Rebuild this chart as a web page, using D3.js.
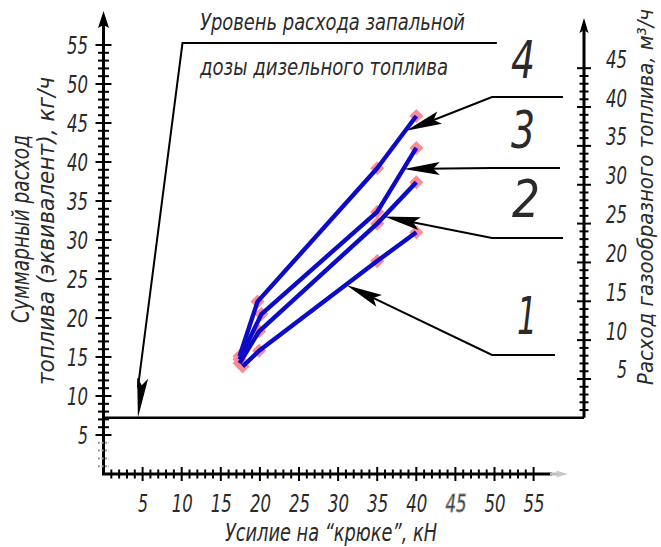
<!DOCTYPE html>
<html><head><meta charset="utf-8">
<script src="https://cdn.jsdelivr.net/npm/d3@7"></script>
<style>
body{margin:0;background:#fff}
text{font-family:'Liberation Sans Narrow','DejaVu Sans Condensed','Open Sans',sans-serif;font-style:italic;fill:#2a2a2a}
</style>
</head><body>
<svg id="c" width="661" height="547"></svg>
<script>
// ---------- data ----------
const xTickLabels = [5,10,15,20,25,30,35,40,45,50,55];
const yLeftTickLabels = [5,10,15,20,25,30,35,40,45,50,55];
const yRightTickLabels = [5,10,15,20,25,30,35,40,45];
const seriesNames = ["1","2","3","4"];
const s1X = [17.8, 19.9, 35.0, 40.0], s1Y = [13.8, 15.8, 27.3, 31.0];
const s2X = [17.4, 19.9, 35.0, 40.0], s2Y = [14.2, 18.3, 32.1, 37.4];
const s3X = [17.4, 20.2, 35.0, 40.0], s3Y = [14.7, 20.5, 33.6, 41.8];
const s4X = [17.4, 19.7, 35.0, 40.0], s4Y = [15.1, 22.1, 39.2, 45.9];
const ignitionLevel = 7.2;
const xTitle = "Усилие на “крюке”, кН";
const yLeftTitle1 = "Суммарный расход";
const yLeftTitle2 = "топлива (эквивалент), кг/ч";
const yRightTitle = "Расход газообразного топлива, м³/ч";
const noteLine1 = "Уровень расхода запальной";
const noteLine2 = "дозы дизельного топлива";

// ---------- scales ----------
const svg = d3.select("#c");
const x = d3.scaleLinear().domain([0,55]).range([103.5, 103.5 + 55*7.82]);
const yL = d3.scaleLinear().domain([0,55]).range([474, 474 - 55*7.8]);
const yR = d3.scaleLinear().domain([0,45]).range([yL(ignitionLevel), yL(ignitionLevel) - 45*7.77]);
const X0 = x(0), XR = 584, YB = yL(0);
const FONT = "'Liberation Sans Narrow','DejaVu Sans Condensed',sans-serif";
const tl = d => String(d).length === 1 ? 10 : 21;

function arrowHead(g, tx, ty, fx, fy, L, W, fill){
  const dx = tx-fx, dy = ty-fy, d = Math.hypot(dx,dy), ux = dx/d, uy = dy/d;
  const bx = tx-ux*L, by = ty-uy*L, nx = -uy, ny = ux;
  const mx = tx-ux*L*0.82, my = ty-uy*L*0.82;
  g.append("path").attr("d",`M${tx},${ty}L${bx+nx*W},${by+ny*W}L${mx},${my}L${bx-nx*W},${by-ny*W}Z`)
   .attr("fill",fill||"#000");
}
function styleTicks(sel){
  sel.attr("font-size",24).attr("dy",null)
     .attr("textLength",tl).attr("lengthAdjust","spacingAndGlyphs")
     .style("font-family",FONT).style("font-style","italic").attr("fill","#333");
}

// ---------- left axis ----------
const gL = svg.append("g");
gL.append("line").attr("x1",X0).attr("x2",X0).attr("y1",YB).attr("y2",24).attr("stroke","#000").attr("stroke-width",3);
arrowHead(gL, X0, 11, X0, 40, 17, 5.5);
gL.selectAll("line.t").data(d3.range(1,56)).join("line").attr("class","t")
  .attr("x1",d=>X0-(d%5===0?8:5.5)).attr("x2",d=>X0+(d%5===0?8:5.5))
  .attr("y1",d=>yL(d)).attr("y2",d=>yL(d))
  .attr("stroke",d=>d<5?"#9a9a9a":"#000").attr("stroke-width",2)
  .attr("stroke-dasharray",d=>d<5?"2,1.5":null);
const axL = d3.axisLeft(yL).tickValues(yLeftTickLabels).tickSize(0).tickPadding(0).tickFormat(d3.format("d"));
const gAL = svg.append("g").attr("transform",`translate(${88},8)`).call(axL);
gAL.select(".domain").remove();
styleTicks(gAL.selectAll("text").attr("text-anchor","end"));

// ---------- bottom axis ----------
const gB = svg.append("g");
gB.append("line").attr("x1",X0-1.5).attr("x2",552).attr("y1",YB).attr("y2",YB).attr("stroke","#000").attr("stroke-width",3);
gB.append("line").attr("x1",550).attr("x2",560).attr("y1",YB).attr("y2",YB).attr("stroke","#bbb").attr("stroke-width",3);
arrowHead(gB, 568, YB, 540, YB, 12, 3.5, "#c8c8c8");
gB.selectAll("line.t").data(d3.range(1,56)).join("line").attr("class","t")
  .attr("x1",d=>x(d)).attr("x2",d=>x(d))
  .attr("y1",d=>YB-(d%5===0?7:4.5)).attr("y2",d=>YB+(d%5===0?7:4.5))
  .attr("stroke","#000").attr("stroke-width",2);
const axB = d3.axisBottom(x).tickValues(xTickLabels).tickSize(0).tickPadding(0).tickFormat(d3.format("d"));
const gAB = svg.append("g").attr("transform",`translate(0,${YB+21})`).call(axB);
gAB.select(".domain").remove();
styleTicks(gAB.selectAll("text").attr("y",17));
gAB.selectAll("text").filter(d=>d===45).attr("fill","#777").attr("stroke","#999").attr("stroke-width",0.8);

// ---------- right axis ----------
const gR = svg.append("g");
gR.append("line").attr("x1",XR).attr("x2",XR).attr("y1",yR(0)).attr("y2",30).attr("stroke","#000").attr("stroke-width",3);
arrowHead(gR, XR, 18, XR, 40, 15, 4.5);
gR.selectAll("line.t").data(d3.range(1,46)).join("line").attr("class","t")
  .attr("x1",d=>XR-(d%5===0?7:4.5)).attr("x2",d=>XR+(d%5===0?7:4.5))
  .attr("y1",d=>yR(d)).attr("y2",d=>yR(d))
  .attr("stroke","#000").attr("stroke-width",2);
const axR = d3.axisRight(yR).tickValues(yRightTickLabels).tickSize(0).tickPadding(0).tickFormat(d3.format("d"));
const gAR = svg.append("g").attr("transform",`translate(627,0)`).call(axR);
gAR.select(".domain").remove();
styleTicks(gAR.selectAll("text").attr("x",0).attr("y",-1).attr("text-anchor","end"));

// ---------- ignition level line ----------
svg.append("line").attr("x1",X0).attr("x2",XR).attr("y1",yL(ignitionLevel)).attr("y2",yL(ignitionLevel))
   .attr("stroke","#000").attr("stroke-width",2.5);

// ---------- titles ----------
svg.append("text").attr("x",331).attr("y",541).attr("text-anchor","middle").attr("font-size",24)
   .attr("textLength",212).attr("lengthAdjust","spacingAndGlyphs").text(xTitle);
svg.append("text").attr("transform","translate(21,229) rotate(-90)").attr("text-anchor","middle")
   .attr("dominant-baseline","central").attr("font-size",24).attr("textLength",188).attr("lengthAdjust","spacingAndGlyphs").text(yLeftTitle1);
svg.append("text").attr("transform","translate(46,231) rotate(-90)").attr("text-anchor","middle")
   .attr("dominant-baseline","central").attr("font-size",23).attr("textLength",308).attr("lengthAdjust","spacingAndGlyphs").text(yLeftTitle2);
svg.append("text").attr("transform","translate(645,197) rotate(-90)").attr("text-anchor","middle")
   .attr("dominant-baseline","central").attr("font-size",22).attr("textLength",376).attr("lengthAdjust","spacingAndGlyphs").text(yRightTitle);

// ---------- note about ignition dose ----------
svg.append("text").attr("x",200).attr("y",30).attr("font-size",23).attr("textLength",265).attr("lengthAdjust","spacingAndGlyphs").text(noteLine1);
svg.append("text").attr("x",200).attr("y",75).attr("font-size",23).attr("textLength",248).attr("lengthAdjust","spacingAndGlyphs").text(noteLine2);
const noteCorner = [x(10.1), 43], noteEnd = x(50.3), noteTip = [x(4.4), yL(ignitionLevel)];
svg.append("path").attr("d",`M${noteEnd},${noteCorner[1]}H${noteCorner[0]}L${noteTip[0]},${noteTip[1]-30}`)
   .attr("fill","none").attr("stroke","#000").attr("stroke-width",2);
arrowHead(svg, noteTip[0], noteTip[1], noteCorner[0], noteCorner[1], 40, 5.5);

// ---------- series ----------
const series = [
  {name:"1", xs:s1X, ys:s1Y},
  {name:"2", xs:s2X, ys:s2Y},
  {name:"3", xs:s3X, ys:s3Y},
  {name:"4", xs:s4X, ys:s4Y}
];
const pts = series.flatMap(s => s.xs.map((v,i)=>({x:v, y:s.ys[i]})));
svg.append("g").selectAll("path").data(pts).join("path")
   .attr("d", d3.symbol(d3.symbolSquare, 100))
   .attr("transform", d=>`translate(${x(d.x)},${yL(d.y)}) rotate(45)`)
   .attr("fill","#fa8c96");
const lineGen = d3.line().x(d=>x(d[0])).y(d=>yL(d[1]));
svg.append("g").selectAll("path").data(series).join("path")
   .attr("d", s=>lineGen(s.xs.map((v,i)=>[v,s.ys[i]])))
   .attr("fill","none").attr("stroke","#0c0cc8").attr("stroke-width",4.4)
   .attr("stroke-linejoin","round").attr("stroke-linecap","butt");

// ---------- leaders & labels 1..4 ----------
const leaders = [
  {name:"4", tip:[38.7,44.0], corner:[492,97],  end:563, label:[523,60],  w:24},
  {name:"3", tip:[38.4,39.1], corner:[492,168], end:560, label:[523,130], w:24},
  {name:"2", tip:[35.9,33.0], corner:[492,238], end:563, label:[526,199], w:28},
  {name:"1", tip:[31.1,24.2], corner:[492,355], end:555, label:[527,316], w:20}
];
leaders.forEach(l=>{
  const tx = x(l.tip[0]), ty = yL(l.tip[1]);
  const dx = l.corner[0]-tx, dy = l.corner[1]-ty, d = Math.hypot(dx,dy);
  svg.append("path").attr("d",`M${l.end},${l.corner[1]}H${l.corner[0]}L${tx+dx/d*20},${ty+dy/d*20}`)
     .attr("fill","none").attr("stroke","#000").attr("stroke-width",2);
  arrowHead(svg, tx, ty, l.corner[0], l.corner[1], 36, 6.5);
  svg.append("text").attr("x",l.label[0]-l.w/2).attr("y",l.label[1])
     .attr("dominant-baseline","central").attr("font-size",52).attr("fill","#111")
     .attr("textLength",l.w).attr("lengthAdjust","spacingAndGlyphs").text(l.name);
});
</script>
</body></html>
